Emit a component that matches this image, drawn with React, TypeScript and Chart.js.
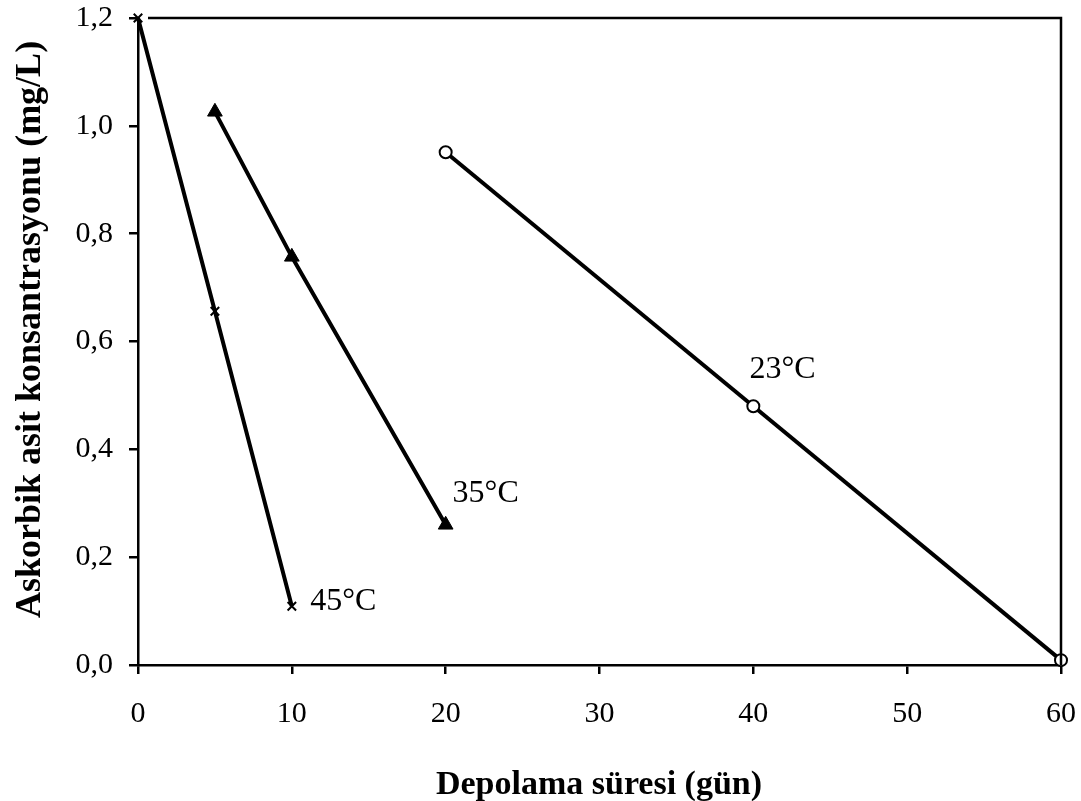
import React, { useEffect, useRef } from "react";
import { Chart, registerables } from "chart.js";

Chart.register(...registerables);

const xTicks = [0, 10, 20, 30, 40, 50, 60];
const yTicks = [0, 0.2, 0.4, 0.6, 0.8, 1.0, 1.2];

const series45x = [0, 5, 10];
const series45y = [1.2, 0.656, 0.109];
const series35x = [5, 10, 20];
const series35y = [1.026, 0.757, 0.26];
const series23x = [20, 40, 60];
const series23y = [0.951, 0.48, 0.009];

const seriesLabels = ["45°C", "35°C", "23°C"];
const labelAnchorX = [11.2, 20.45, 39.75];
const labelAnchorY = [0.102, 0.302, 0.532];

const xTitle = "Depolama süresi (gün)";
const yTitle = "Askorbik asit konsantrasyonu (mg/L)";

const FONT = "'Liberation Serif', 'Times New Roman', serif";

const zip = (xs: number[], ys: number[]) => xs.map((x, i) => ({ x, y: ys[i] }));

const decorPlugin = {
  id: "decor",
  afterDraw(chart: any) {
    const { ctx, chartArea, scales } = chart;
    ctx.save();
    // box (top + right)
    ctx.strokeStyle = "#000";
    ctx.lineWidth = 2.5;
    ctx.beginPath();
    ctx.moveTo(chartArea.left + 10, chartArea.top);
    ctx.lineTo(chartArea.right, chartArea.top);
    ctx.lineTo(chartArea.right, chartArea.bottom);
    ctx.stroke();
    // series labels
    ctx.fillStyle = "#000";
    ctx.font = `32px ${FONT}`;
    ctx.textAlign = "left";
    ctx.textBaseline = "alphabetic";
    seriesLabels.forEach((t, i) => {
      const px = scales.x.getPixelForValue(labelAnchorX[i]);
      const py = scales.y.getPixelForValue(labelAnchorY[i]);
      ctx.fillText(t, px, py);
    });
    // y title
    ctx.font = `bold 36px ${FONT}`;
    ctx.textAlign = "left";
    ctx.textBaseline = "alphabetic";
    ctx.translate(40, 618);
    ctx.rotate(-Math.PI / 2);
    ctx.fillText(yTitle, 0, 0);
    ctx.restore();
    // x title
    ctx.save();
    ctx.font = `bold 34px ${FONT}`;
    ctx.fillStyle = "#000";
    ctx.textAlign = "center";
    ctx.textBaseline = "alphabetic";
    ctx.fillText(xTitle, 599, 794);
    ctx.restore();
  },
};

export default function App() {
  const ref = useRef<HTMLCanvasElement>(null);
  useEffect(() => {
    if (!ref.current) return;
    const chart = new Chart(ref.current, {
      type: "line",
      data: {
        datasets: [
          {
            label: seriesLabels[0],
            data: zip(series45x, series45y),
            borderColor: "#000",
            borderWidth: 4,
            pointStyle: "crossRot",
            pointRadius: 6,
            pointBorderWidth: 2,
            pointBorderColor: "#000",
            pointBackgroundColor: "#000",
            clip: false,
          },
          {
            label: seriesLabels[1],
            data: zip(series35x, series35y),
            borderColor: "#000",
            borderWidth: 4,
            pointStyle: "triangle",
            pointRadius: 8.5,
            pointBorderWidth: 1,
            pointBorderColor: "#000",
            pointBackgroundColor: "#000",
            clip: false,
          },
          {
            label: seriesLabels[2],
            data: zip(series23x, series23y),
            borderColor: "#000",
            borderWidth: 4,
            pointStyle: "circle",
            pointRadius: 6,
            pointBorderWidth: 2,
            pointBorderColor: "#000",
            pointBackgroundColor: "#fff",
            clip: false,
          },
        ],
      },
      options: {
        animation: false,
        responsive: false,
        layout: { padding: { top: 18, right: 20, left: 0, bottom: 0 } },
        plugins: { legend: { display: false }, tooltip: { enabled: false }, title: { display: false } },
        scales: {
          x: {
            type: "linear",
            min: 0,
            max: 60,
            afterBuildTicks: (s: any) => {
              s.ticks = xTicks.map((v) => ({ value: v }));
            },
            afterFit: (s: any) => {
              s.height = 136;
              s.paddingLeft = 0;
              s.paddingRight = 0;
            },
            ticks: {
              color: "#000",
              font: { family: FONT, size: 30 },
              padding: 22,
              maxRotation: 0,
              callback: (v: any) => String(v),
            },
            grid: { drawOnChartArea: false, drawTicks: true, tickLength: 9, color: "#000", lineWidth: 2.5 },
            border: { display: true, color: "#000", width: 2.5 },
          },
          y: {
            type: "linear",
            min: 0,
            max: 1.2,
            afterBuildTicks: (s: any) => {
              s.ticks = yTicks.map((v) => ({ value: v }));
            },
            afterFit: (s: any) => {
              s.width = 138;
              s.paddingTop = 0;
              s.paddingBottom = 0;
            },
            ticks: {
              color: "#000",
              font: { family: FONT, size: 30 },
              padding: 16,
              callback: (v: any) => Number(v).toFixed(1).replace(".", ","),
            },
            grid: { drawOnChartArea: false, drawTicks: true, tickLength: 9, color: "#000", lineWidth: 2.5 },
            border: { display: true, color: "#000", width: 2.5 },
          },
        },
      },
      plugins: [decorPlugin],
    });
    return () => chart.destroy();
  }, []);
  return (
    <div style={{ position: "absolute", left: 0, top: 0, width: 1081, height: 801, background: "#fff" }}>
      <canvas ref={ref} width={1081} height={801} style={{ display: "block" }} />
    </div>
  );
}
